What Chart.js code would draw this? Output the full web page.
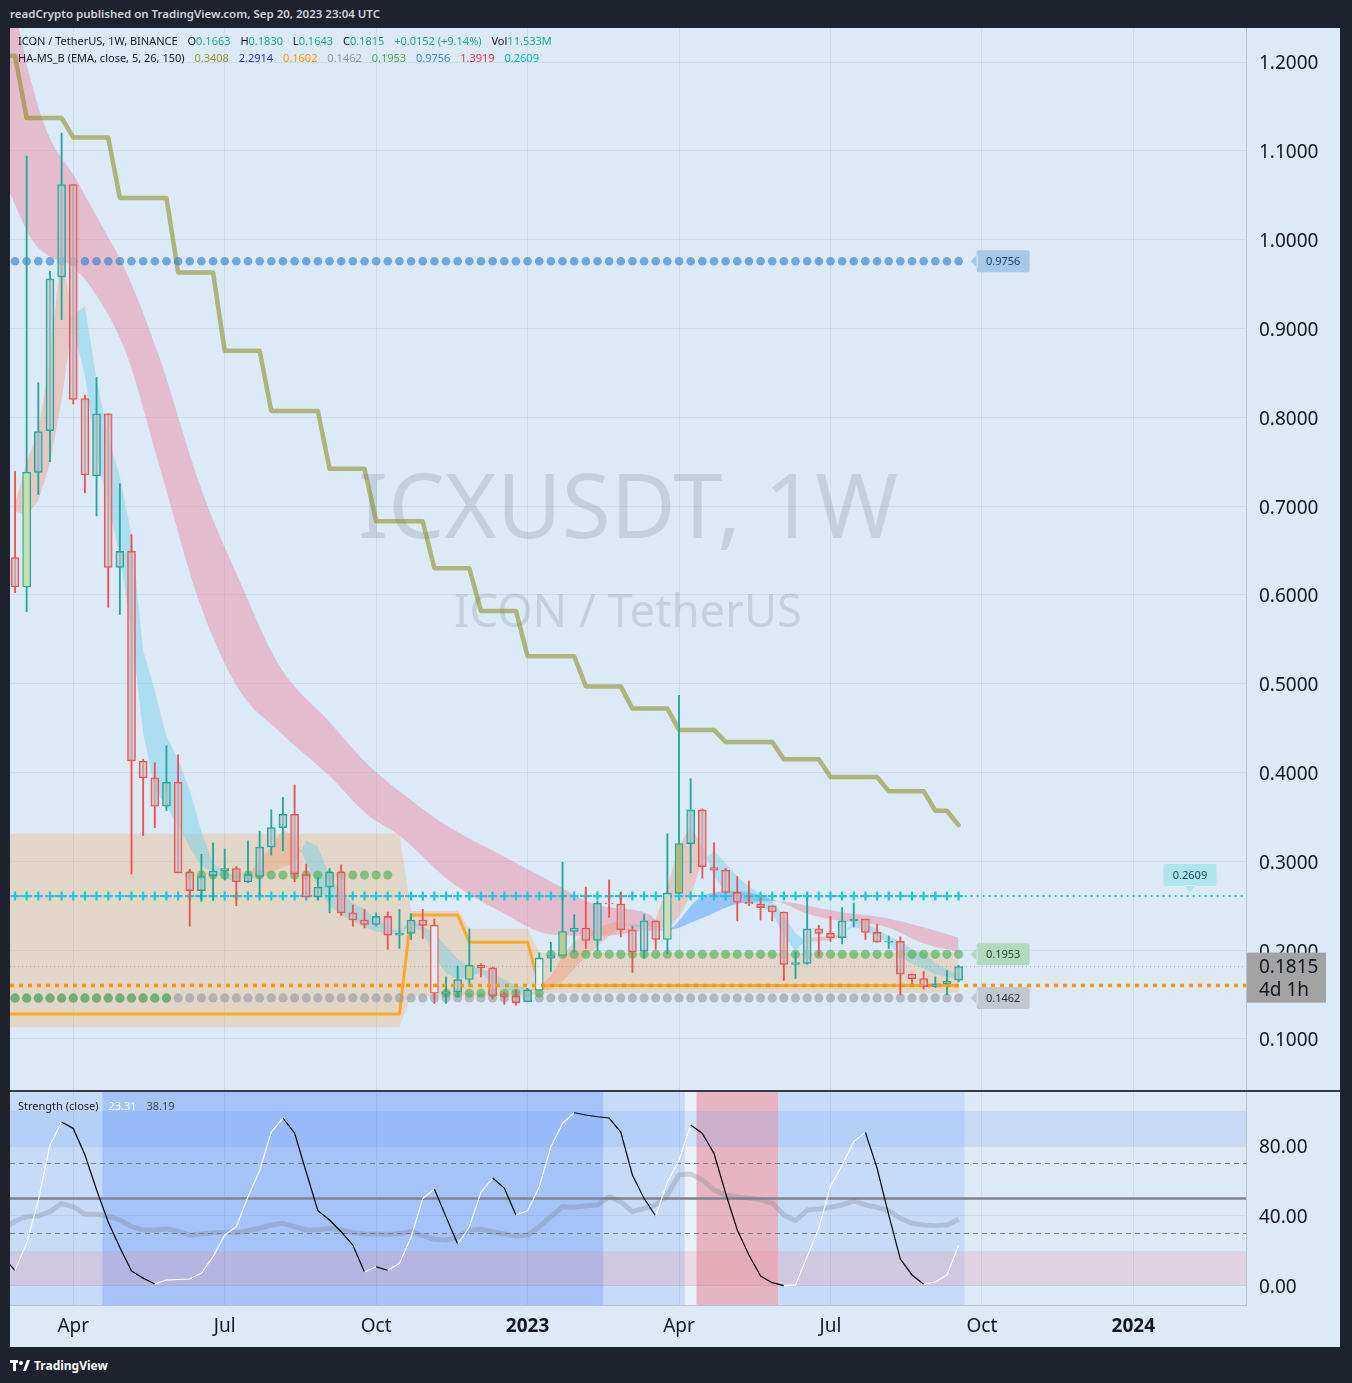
<!DOCTYPE html>
<html>
<head>
<meta charset="utf-8">
<script src="https://cdn.jsdelivr.net/npm/chart.js@4.4.1/dist/chart.umd.min.js"></script>
<style>
  html, body { margin: 0; padding: 0; background: #1e222d; width: 1352px; height: 1383px; overflow: hidden; font-family: 'Noto Sans', sans-serif; }
  #frame { position: absolute; left: 10px; top: 28px; width: 1330px; height: 1319px; background: #dce9f6; }
  canvas { position: absolute; left: 10px; }
  #main { top: 28px; }
  #sub { top: 1092px; }
  #sep { position: absolute; left: 10px; top: 1090px; width: 1330px; height: 2px; background: #363a45; }
  .hdr { position: absolute; left: 10px; top: 6px; color: #d1d4dc; font-size: 11.5px; font-weight: 600; white-space: nowrap; }
  .legend { position: absolute; left: 18px; font-size: 11px; color: #131722; white-space: nowrap; line-height: 14px; }
  .legend span.g { margin-left: 7px; }
  .up { color: #26a69a; }
  .foot { position: absolute; left: 10px; top: 1357px; color: #ffffff; font-size: 12px; font-weight: 700; display: flex; align-items: center; gap: 4px; }
</style>
</head>
<body>
<div id="frame"></div>
<canvas id="main" width="1330" height="1062"></canvas>
<div id="sep"></div>
<canvas id="sub" width="1330" height="255"></canvas>

<div class="hdr">readCrypto published on TradingView.com, Sep 20, 2023 23:04 UTC</div>
<div class="legend" style="top:34px">ICON / TetherUS, 1W, BINANCE
  <span class="g">O<span class="up">0.1663</span></span>
  <span class="g">H<span class="up">0.1830</span></span>
  <span class="g">L<span class="up">0.1643</span></span>
  <span class="g">C<span class="up">0.1815</span></span>
  <span class="g up">+0.0152 (+9.14%)</span>
  <span class="g">Vol<span class="up">11.533M</span></span>
</div>
<div class="legend" style="top:51px">HA-MS_B (EMA, close, 5, 26, 150)
  <span class="g" style="color:#9a9a2a">0.3408</span>
  <span class="g" style="color:#2a2aff">2.2914</span>
  <span class="g" style="color:#ff9800">0.1602</span>
  <span class="g" style="color:#9598a1">0.1462</span>
  <span class="g" style="color:#4caf50">0.1953</span>
  <span class="g" style="color:#3d8be0">0.9756</span>
  <span class="g" style="color:#f23645">1.3919</span>
  <span class="g" style="color:#00bcd4">0.2609</span>
</div>
<div class="legend" style="top:1099px">Strength (close)
  <span class="g" style="color:#ffffff">23.31</span>
  <span class="g" style="color:#434651">38.19</span>
</div>
<div class="foot">
  <svg width="20" height="12" viewBox="0 0 20 12"><rect x="0" y="0" width="8" height="3" fill="#fff"/><rect x="3" y="0" width="3" height="11" fill="#fff"/><circle cx="11" cy="3" r="2" fill="#fff"/><path d="M13 11 L17 0 L20 0 L16 11 Z" fill="#fff"/></svg>
  <span>TradingView</span>
</div>

<script>
// weekly candles, index 0 = week of Feb 28 2022, index 81 = week of Sep 18 2023
const open  = [0.642,0.609,0.738,0.785,0.958,1.062,0.821,0.734,0.804,0.631, 0.649,0.413,0.394,0.362,0.389,0.288,0.267,0.284,0.289,0.292, 0.277,0.283,0.316,0.338,0.353,0.285,0.260,0.271,0.288,0.242, 0.234,0.229,0.238,0.217,0.219,0.234,0.228,0.151,0.153,0.167, 0.183,0.180,0.150,0.148,0.142,0.155,0.191,0.194,0.221,0.225, 0.211,0.253,0.252,0.223,0.199,0.233,0.212,0.264,0.320,0.358, 0.293,0.290,0.265,0.254,0.252,0.250,0.243,0.184,0.185,0.224, 0.219,0.214,0.233,0.235,0.220,0.209,0.210,0.173,0.168,0.159, 0.162,0.1663];
const high  = [0.739,1.094,0.839,0.964,1.120,1.062,0.825,0.845,0.804,0.725, 0.668,0.415,0.411,0.430,0.420,0.291,0.308,0.321,0.314,0.294, 0.323,0.334,0.358,0.372,0.386,0.297,0.282,0.292,0.296,0.251, 0.246,0.242,0.243,0.246,0.241,0.246,0.235,0.170,0.182,0.224, 0.185,0.181,0.153,0.155,0.157,0.197,0.209,0.299,0.240,0.271, 0.255,0.279,0.265,0.227,0.240,0.233,0.331,0.487,0.393,0.359, 0.321,0.292,0.283,0.278,0.258,0.250,0.243,0.198,0.259,0.228, 0.238,0.248,0.253,0.235,0.229,0.216,0.215,0.173,0.176,0.170, 0.177,0.1830];
const low   = [0.6025,0.581,0.713,0.750,0.910,0.815,0.715,0.689,0.586,0.578, 0.286,0.329,0.338,0.357,0.287,0.227,0.255,0.256,0.279,0.250, 0.276,0.261,0.307,0.312,0.277,0.260,0.257,0.242,0.239,0.227, 0.225,0.227,0.201,0.202,0.212,0.213,0.140,0.140,0.147,0.159, 0.170,0.145,0.139,0.138,0.142,0.155,0.176,0.194,0.198,0.202, 0.200,0.237,0.215,0.175,0.191,0.201,0.196,0.264,0.287,0.281, 0.261,0.265,0.233,0.250,0.234,0.233,0.166,0.168,0.184,0.193, 0.210,0.207,0.226,0.212,0.209,0.202,0.150,0.162,0.156,0.158, 0.150,0.1643];
const close = [0.609,0.738,0.784,0.956,1.062,0.820,0.735,0.804,0.631,0.649, 0.413,0.394,0.362,0.389,0.287,0.267,0.283,0.289,0.292,0.277, 0.285,0.316,0.338,0.353,0.286,0.260,0.271,0.288,0.242,0.234, 0.229,0.238,0.217,0.219,0.234,0.228,0.1515,0.153,0.167,0.183, 0.180,0.149,0.148,0.141,0.155,0.191,0.194,0.221,0.225,0.211, 0.253,0.252,0.223,0.198,0.233,0.212,0.264,0.320,0.358,0.294, 0.290,0.265,0.254,0.252,0.248,0.243,0.184,0.186,0.224,0.219, 0.214,0.233,0.235,0.220,0.209,0.210,0.173,0.168,0.159,0.162, 0.165,0.1815];

// axis ticks
const tickIdx    = [5, 18, 31, 44, 57, 70, 83, 96];
const tickLabels = ['Apr', 'Jul', 'Oct', '2023', 'Apr', 'Jul', 'Oct', '2024'];
const priceTicks = [0.1, 0.2, 0.3, 0.4, 0.5, 0.6, 0.7, 0.8, 0.9, 1.0, 1.1, 1.2];
const strengthTicks = [0, 40, 80];

// indicator levels
const blueLevel  = 0.9756;
const greyLevel  = 0.1462;
const cyanLevel  = 0.2609;
const orangeLast = 0.1602;
const greenLast  = 0.1953;
const greenSegs  = [[0, 13, 0.146], [15, 32, 0.2846], [37, 45, 0.1515], [46, 81, 0.1953]];

// step lines: [week index, value] corners
const olivePts  = [[-1,1.207],[0,1.207],[1,1.137],[4,1.137],[5,1.115],[8,1.115],[9,1.047],[13,1.047],[14,0.963],[17,0.963],[18,0.875],[21,0.875],[22,0.807],[26,0.807],[27,0.742],[30,0.742],[31,0.683],[35,0.683],[36,0.630],[39,0.630],[40,0.582],[43,0.582],[44,0.531],[48,0.531],[49,0.497],[52,0.497],[53,0.472],[56,0.472],[57,0.448],[60,0.448],[61,0.4345],[65,0.4345],[66,0.415],[69,0.415],[70,0.395],[74,0.395],[75,0.379],[78,0.379],[79,0.357],[80,0.357],[81,0.3408]];
const orangePts = [[-1,0.128],[33,0.128],[34,0.2395],[38,0.2395],[39,0.209],[44,0.209],[45,0.1602],[81,0.1602]];
const tanTopPts = [[-1,0.331],[33,0.331],[34,0.244],[38,0.244],[39,0.224],[44,0.224],[45,0.197],[81,0.197]];
const tanBotPts = [[-1,0.113],[33,0.113],[34,0.148],[38,0.148],[39,0.148],[44,0.148],[45,0.152],[81,0.152]];

// fast ribbon (per candle)
const fastA = [0.702,0.749,0.785,0.864,0.994,0.900,0.847,0.757,0.703,0.643, 0.560,0.445,0.381,0.362,0.340,0.316,0.295,0.289,0.280,0.278, 0.285,0.300,0.317,0.336,0.3285,0.298,0.272,0.250,0.2395,0.233, 0.226,0.221,0.219,0.218,0.228,0.221,0.193,0.174,0.167,0.171, 0.174,0.163,0.156,0.1515,0.154,0.159,0.171,0.193,0.210,0.219, 0.225,0.230,0.233,0.225,0.227,0.235,0.272,0.317,0.340,0.317, 0.283,0.2665,0.261,0.255,0.250,0.242,0.216,0.199,0.2135,0.2147, 0.216,0.219,0.227,0.221,0.215,0.208,0.193,0.185,0.179,0.173, 0.170,0.167];
const fastB = [0.694,0.689,0.706,0.748,0.819,0.915,0.925,0.843,0.778,0.733, 0.668,0.537,0.492,0.441,0.415,0.380,0.334,0.298,0.289,0.282, 0.280,0.281,0.287,0.294,0.298,0.323,0.317,0.283,0.264,0.253, 0.246,0.235,0.227,0.221,0.233,0.227,0.219,0.2045,0.190,0.182, 0.179,0.174,0.167,0.1605,0.156,0.154,0.156,0.165,0.179,0.193, 0.2045,0.216,0.227,0.230,0.228,0.226,0.2237,0.238,0.261,0.300, 0.312,0.298,0.283,0.272,0.263,0.255,0.238,0.219,0.209,0.210, 0.211,0.216,0.233,0.230,0.224,0.216,0.210,0.201,0.197,0.185, 0.179,0.171];

// slow ribbon (read at these week positions)
const slowIdx = [-1, 1.5, 3, 5, 7, 9.6, 12.4, 15.9, 19.3, 22.7, 27, 30.2, 33, 37.3, 41.6, 45.9, 50.2, 54.5, 55.8, 58.8, 62, 65.5, 68, 70.8, 74.8, 77.9, 81];
const slowA = [1.07, 0.999, 0.981, 0.969, 0.937, 0.870, 0.745, 0.589, 0.492, 0.446, 0.396, 0.353, 0.329, 0.278, 0.244, 0.218, 0.216, 0.222, 0.222, 0.259, 0.2665, 0.255, 0.241, 0.233, 0.226, 0.208, 0.198];
const slowB = [1.32, 1.172, 1.114, 1.073, 1.026, 0.962, 0.867, 0.722, 0.615, 0.520, 0.457, 0.410, 0.379, 0.338, 0.308, 0.278, 0.250, 0.240, 0.222, 0.235, 0.252, 0.255, 0.250, 0.243, 0.236, 0.226, 0.214];

// strength pane, index -1 .. 81
const oscVals = [16, 9,24.5,49,80.6,93.7,90,75,55,36.6,22, 8.6,4.5,1.1,3.4,3.7,4,7.4,16.8,29,33.9, 51,66,88,96,87.4,65,43,37.7,31,23.4, 8,10.9,9,13,28,50,55.4,39.5,24,33.7, 53.7,61.7,56,40.6,43,56.6,79.6,93,99,97.7, 96.7,96,88,63.4,50,40,59.4,72,92,87.2, 75.8,53,32,17.7,5.7,1.9,0.2,0.6,16.8,33, 56.8,69,82.5,87.8,67.4,40.6,15.4,6.3,1,2.3, 6.3,23.31];
const strengthVals = [33, 37,39.6,40,42.5,47.2,45.3,41,41,40,37.7, 33.9,32,32,32.6,31.4,29,29.7,30.5,30.5,30.5, 31.6,33,34.9,35.8,33.9,32,32,33,32,30.5, 29.7,29.7,29.5,30,31,28.8,26.7,26.3,28,32, 32.4,31,29.7,28.6,29,33.9,39.6,45.3,45,45.9, 46.3,51,48.2,42.5,44.4,46.3,52,63.5,64,60.6, 54.9,52,50.9,50.3,49.3,47.4,40.6,37.3,43.4,44, 45,46.3,48.6,46.3,45,43,38.7,35.8,34.9,34.5, 34.9,38.19];
// background spans in the strength pane: [from week, to week, tone]
const strengthSpans = [[-0.5, 7.5, 'light'], [7.5, 50.5, 'strong'], [50.5, 57.5, 'light'], [57.5, 58.5, 'pale'], [58.5, 65.5, 'red'], [65.5, 81.5, 'light']];

// ---------- styling ----------
const X_MIN = -0.43, X_MAX = 105.67;
const UP = '#26a69a', DOWN = '#ef5350';
const AXIS_TEXT = '#131722';
const GRID = 'rgba(42,46,57,0.07)';
const FONT = "'Noto Sans', sans-serif";
const tintedBodies = { 1: '#c8dfae', 36: '#e3e8f5', 39: '#bfd19c', 45: '#eceff0', 47: '#b7ce92', 56: '#cbdcbf', 57: '#a9be7c' };
const spanTones = { light: 'rgba(120,170,255,0.22)', strong: 'rgba(60,120,255,0.34)', pale: 'rgba(255,255,255,0.4)', red: 'rgba(240,110,120,0.42)' };

const pts = arr => arr.map(([x, y]) => ({ x, y }));
const perCandle = (arr, start) => arr.map((y, i) => ({ x: i + start, y }));
function levelPoints(from, to, v) {
  const out = [];
  for (let i = from; i <= to; i++) out.push({ x: i, y: v });
  return out;
}
const candleColor = open.map((o, i) => close[i] >= o ? UP : DOWN);

const datasets = [
  { type: 'bar', label: 'bodies', data: open.map((o, i) => ({ x: i, y: [o, close[i]] })),
    backgroundColor: open.map((o, i) => tintedBodies[i] || 'rgba(196,200,210,0.62)'),
    borderColor: candleColor, borderWidth: 1.3, borderSkipped: false, barThickness: 8, grouped: false, order: 0 },
  { type: 'bar', label: 'wicks', data: open.map((o, i) => ({ x: i, y: [low[i], high[i]] })),
    backgroundColor: candleColor, borderWidth: 0, barThickness: 1.2, grouped: false, order: 1 },
  { type: 'line', label: 'blue', data: levelPoints(0, 81, blueLevel), showLine: false,
    pointRadius: 4.3, pointBorderWidth: 0, pointBackgroundColor: 'rgba(61,133,210,0.68)', order: 2 },
  { type: 'line', label: 'green', data: greenSegs.flatMap(([a, b, v]) => levelPoints(a, b, v)), showLine: false,
    pointRadius: 4.6, pointBorderWidth: 0, pointBackgroundColor: 'rgba(76,175,80,0.62)', order: 3 },
  { type: 'line', label: 'grey', data: levelPoints(0, 81, greyLevel), showLine: false,
    pointRadius: 4.6, pointBorderWidth: 0, pointBackgroundColor: 'rgba(149,152,161,0.6)', order: 4 },
  { type: 'line', label: 'cyan', data: levelPoints(0, 81, cyanLevel), borderColor: '#26c6da', borderWidth: 2,
    borderDash: [2, 3], pointStyle: 'cross', pointRadius: 4.5, pointBorderWidth: 2.2, pointBorderColor: '#26c6da', order: 5 },
  { type: 'line', label: 'orange', data: pts(orangePts), borderColor: '#ffa726', borderWidth: 3,
    pointRadius: 0, borderJoinStyle: 'round', order: 6 },
  { type: 'line', label: 'olive', data: pts(olivePts), borderColor: 'rgba(128,128,0,0.5)', borderWidth: 4.5,
    pointRadius: 0, borderJoinStyle: 'round', borderCapStyle: 'round', order: 7 },
  { type: 'line', label: 'fastA', data: perCandle(fastA, 0), borderWidth: 0, pointRadius: 0,
    fill: { target: 9, above: 'rgba(245,140,100,0.35)', below: 'rgba(90,205,232,0.38)' }, order: 8 },
  { type: 'line', label: 'fastB', data: perCandle(fastB, 0), borderWidth: 0, pointRadius: 0, order: 9 },
  { type: 'line', label: 'tanTop', data: pts(tanTopPts), borderWidth: 0, pointRadius: 0,
    fill: { target: 11, above: 'rgba(240,160,60,0.25)', below: 'rgba(240,160,60,0.25)' }, order: 10 },
  { type: 'line', label: 'tanBot', data: pts(tanBotPts), borderWidth: 0, pointRadius: 0, order: 11 },
  { type: 'line', label: 'slowA', data: slowIdx.map((x, i) => ({ x, y: slowA[i] })), borderWidth: 0, pointRadius: 0,
    cubicInterpolationMode: 'monotone',
    fill: { target: 13, above: 'rgba(60,150,255,0.45)', below: 'rgba(245,90,110,0.3)' }, order: 12 },
  { type: 'line', label: 'slowB', data: slowIdx.map((x, i) => ({ x, y: slowB[i] })), borderWidth: 0, pointRadius: 0,
    cubicInterpolationMode: 'monotone', order: 13 }
];

function fitText(ctx, text, width, x, y) {
  ctx.font = `100px ${FONT}`;
  const size = 100 * width / ctx.measureText(text).width;
  ctx.font = `${size}px ${FONT}`;
  ctx.fillText(text, x, y);
}

function drawTag(ctx, x, y, text, bg, fg, dir) {
  const w = 53, h = 22;
  ctx.save();
  ctx.fillStyle = bg;
  ctx.beginPath();
  if (dir === 'left') {
    ctx.roundRect(x, y - h / 2, w, h, 2);
    ctx.moveTo(x + 1, y - 7); ctx.lineTo(x - 6, y); ctx.lineTo(x + 1, y + 7);
  } else {
    ctx.roundRect(x - w / 2, y - 10 - h, w, h, 2);
    ctx.moveTo(x - 6, y - 11); ctx.lineTo(x, y - 4); ctx.lineTo(x + 6, y - 11);
  }
  ctx.fill();
  ctx.fillStyle = fg;
  ctx.font = `11px ${FONT}`;
  ctx.textAlign = 'center';
  ctx.textBaseline = 'middle';
  if (dir === 'left') ctx.fillText(text, x + w / 2, y + 0.5);
  else ctx.fillText(text, x, y - 10 - h / 2 + 0.5);
  ctx.restore();
}

function hLine(ctx, x0, x1, y, color, width, dash) {
  ctx.save();
  ctx.strokeStyle = color; ctx.lineWidth = width; ctx.setLineDash(dash);
  ctx.beginPath(); ctx.moveTo(x0, y); ctx.lineTo(x1, y); ctx.stroke();
  ctx.restore();
}

const mainDecor = {
  id: 'mainDecor',
  beforeDatasetsDraw(chart) {
    const { ctx, chartArea: a } = chart;
    ctx.save();
    ctx.fillStyle = 'rgba(100,110,130,0.2)';
    ctx.textAlign = 'center';
    ctx.textBaseline = 'middle';
    const cx = (a.left + a.right) / 2;
    fitText(ctx, 'ICXUSDT, 1W', 540, cx, a.top + 485);
    fitText(ctx, 'ICON / TetherUS', 348, cx, a.top + 586);
    ctx.restore();
  },
  afterDatasetsDraw(chart) {
    const { ctx, chartArea: a, scales: { x, y } } = chart;
    const lastX = x.getPixelForValue(open.length - 1);
    ctx.save();
    ctx.beginPath(); ctx.rect(a.left, a.top, a.width, a.height); ctx.clip();
    hLine(ctx, a.left, a.right, y.getPixelForValue(close[close.length - 1]), 'rgba(120,123,134,0.55)', 1, [1, 3]);
    hLine(ctx, a.left, a.right, y.getPixelForValue(orangeLast), '#ff9800', 3.5, [4, 5]);
    hLine(ctx, lastX, a.right, y.getPixelForValue(cyanLevel), '#26c6da', 2, [2, 4]);
    ctx.restore();
    drawTag(ctx, lastX + 18, y.getPixelForValue(blueLevel), blueLevel.toFixed(4), '#a8c8ea', '#1c3b5a', 'left');
    drawTag(ctx, lastX + 18, y.getPixelForValue(greenLast), greenLast.toFixed(4), '#b4d9bc', '#1f4d26', 'left');
    drawTag(ctx, lastX + 18, y.getPixelForValue(greyLevel), greyLevel.toFixed(4), '#c3c7cf', '#2a2e39', 'left');
    drawTag(ctx, a.right - 56, y.getPixelForValue(cyanLevel), cyanLevel.toFixed(4), '#b0e4ee', '#0f4c57', 'down');
  },
  afterDraw(chart) {
    const { ctx, chartArea: a, scales: { y } } = chart;
    const last = close[close.length - 1];
    const py = y.getPixelForValue(last);
    ctx.save();
    ctx.fillStyle = '#a3a3a3';
    ctx.fillRect(a.right + 1, py - 14, 79, 50);
    ctx.fillStyle = AXIS_TEXT;
    ctx.font = `19px ${FONT}`;
    ctx.textBaseline = 'middle';
    ctx.textAlign = 'left';
    ctx.fillText(last.toFixed(4), a.right + 13, py + 1);
    ctx.fillText('4d 1h', a.right + 13, py + 24);
    ctx.restore();
  }
};

const setTicks = list => scale => { scale.ticks = list.map(v => ({ value: v })); };
const noPad = s => { s.paddingTop = 0; s.paddingBottom = 0; s.paddingLeft = 0; s.paddingRight = 0; };

new Chart(document.getElementById('main'), {
  type: 'line',
  data: { datasets },
  options: {
    responsive: false, animation: false, devicePixelRatio: 1,
    layout: { padding: 0, autoPadding: false },
    plugins: { legend: { display: false }, tooltip: { enabled: false } },
    scales: {
      x: {
        type: 'linear', min: X_MIN, max: X_MAX, offset: false,
        afterBuildTicks: setTicks(tickIdx),
        afterFit: s => { s.height = 0; noPad(s); },
        ticks: { display: false },
        grid: { color: GRID, drawTicks: false, offset: false },
        border: { display: false }
      },
      y: {
        position: 'right', min: 0.04257, max: 1.2383,
        afterBuildTicks: setTicks(priceTicks),
        afterFit: s => { s.width = 94; noPad(s); },
        ticks: { color: AXIS_TEXT, padding: 13, labelOffset: 2, font: { family: FONT, size: 19 }, callback: v => v.toFixed(4) },
        grid: { color: GRID, drawTicks: false },
        border: { display: true, color: '#b8c2cf' }
      }
    }
  },
  plugins: [mainDecor]
});

// ---------- strength pane ----------
const subDecor = {
  id: 'subDecor',
  beforeDraw(chart) {
    const { ctx, chartArea: a, scales: { x, y } } = chart;
    ctx.save();
    ctx.beginPath(); ctx.rect(a.left, a.top, a.width, a.height); ctx.clip();
    strengthSpans.forEach(([from, to, tone]) => {
      const x0 = x.getPixelForValue(from), x1 = x.getPixelForValue(to);
      ctx.fillStyle = spanTones[tone];
      ctx.fillRect(x0, a.top, x1 - x0, a.height);
    });
    ctx.fillStyle = 'rgba(100,150,250,0.18)';
    ctx.fillRect(a.left, y.getPixelForValue(100), a.width, y.getPixelForValue(80) - y.getPixelForValue(100));
    ctx.fillStyle = 'rgba(235,140,160,0.24)';
    ctx.fillRect(a.left, y.getPixelForValue(20), a.width, y.getPixelForValue(0) - y.getPixelForValue(20));
    ctx.restore();
  },
  beforeDatasetsDraw(chart) {
    const { ctx, chartArea: a, scales: { y } } = chart;
    hLine(ctx, a.left, a.right, y.getPixelForValue(70), '#787b86', 1, [5, 4]);
    hLine(ctx, a.left, a.right, y.getPixelForValue(30), '#787b86', 1, [5, 4]);
    hLine(ctx, a.left, a.right, y.getPixelForValue(50), '#7f838e', 2.5, []);
  }
};

new Chart(document.getElementById('sub'), {
  type: 'line',
  data: {
    datasets: [
      { label: 'osc', data: perCandle(oscVals, -1), borderWidth: 1.2, pointRadius: 0, tension: 0,
        segment: { borderColor: c => c.p1.parsed.y >= c.p0.parsed.y ? '#ffffff' : '#000000' }, order: 0 },
      { label: 'strength', data: perCandle(strengthVals, -1), borderWidth: 5, pointRadius: 0,
        borderColor: 'rgba(120,123,134,0.28)', borderJoinStyle: 'round', order: 1 }
    ]
  },
  options: {
    responsive: false, animation: false, devicePixelRatio: 1,
    layout: { padding: 0, autoPadding: false },
    plugins: { legend: { display: false }, tooltip: { enabled: false } },
    scales: {
      x: {
        type: 'linear', min: X_MIN, max: X_MAX, offset: false,
        afterBuildTicks: setTicks(tickIdx),
        afterFit: s => { s.height = 42; noPad(s); },
        ticks: {
          color: AXIS_TEXT, padding: 10, maxRotation: 0, autoSkip: false,
          font: c => ({ family: FONT, size: 19, weight: /^\d/.test(tickLabels[c.index] || '') ? '700' : '400' }),
          callback: (v, i) => tickLabels[i]
        },
        grid: { color: GRID, drawTicks: false },
        border: { display: true, color: '#b8c2cf' }
      },
      y: {
        position: 'right', min: -10.86, max: 110.86,
        afterBuildTicks: setTicks(strengthTicks),
        afterFit: s => { s.width = 94; noPad(s); },
        ticks: { color: AXIS_TEXT, padding: 13, labelOffset: 2, font: { family: FONT, size: 19 }, callback: v => v.toFixed(2) },
        grid: { color: GRID, drawTicks: false },
        border: { display: true, color: '#b8c2cf' }
      }
    }
  },
  plugins: [subDecor]
});
</script>
</body>
</html>
